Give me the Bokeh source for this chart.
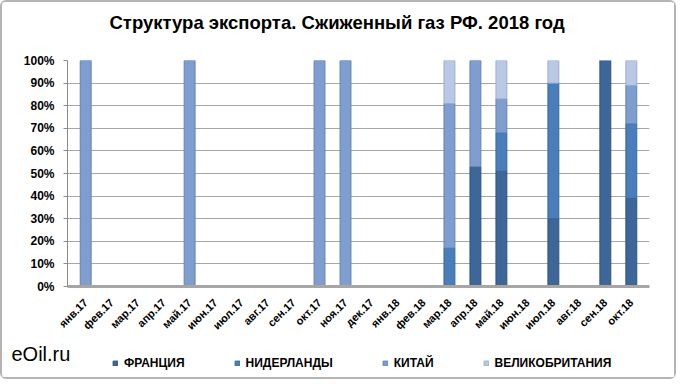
from bokeh.plotting import figure
from bokeh.layouts import column
from bokeh.models import (FactorRange, Range1d, NumeralTickFormatter, Legend, LegendItem,
                          Label, SingleIntervalTicker, ColumnDataSource)
from bokeh.embed import file_html
from bokeh.resources import INLINE
import math

months = ["янв.17", "фев.17", "мар.17", "апр.17", "май.17", "июн.17", "июл.17", "авг.17",
          "сен.17", "окт.17", "ноя.17", "дек.17", "янв.18", "фев.18", "мар.18", "апр.18",
          "май.18", "июн.18", "июл.18", "авг.18", "сен.18", "окт.18"]
france = [0, 0, 0, 0, 0, 0, 0, 0, 0, 0, 0, 0, 0, 0, 0, 0.53, 0.51, 0, 0.30, 0, 1.00, 0.39]
netherlands = [0, 0, 0, 0, 0, 0, 0, 0, 0, 0, 0, 0, 0, 0, 0.17, 0, 0.17, 0, 0.60, 0, 0, 0.33]
china = [1.00, 0, 0, 0, 1.00, 0, 0, 0, 0, 1.00, 1.00, 0, 0, 0, 0.64, 0.47, 0.15, 0, 0, 0, 0, 0.17]
uk = [0, 0, 0, 0, 0, 0, 0, 0, 0, 0, 0, 0, 0, 0, 0.19, 0, 0.17, 0, 0.10, 0, 0, 0.11]
series_names = ["ФРАНЦИЯ", "НИДЕРЛАНДЫ", "КИТАЙ", "ВЕЛИКОБРИТАНИЯ"]
series_keys = ["france", "netherlands", "china", "uk"]
colors = ["#3C6798", "#4A7EBB", "#7E9ED0", "#B9C9E5"]
edge_colors = ["#2F5380", "#3A679E", "#6683B3", "#9AAECF"]
brand_text = "eOil.ru"
title_text = "Структура экспорта. Сжиженный газ РФ. 2018 год"

source = ColumnDataSource(dict(months=months, france=france, netherlands=netherlands,
                               china=china, uk=uk))

font = "Liberation Sans"


def strip(height):
    f = figure(width=672, height=height, x_range=Range1d(0, 1), y_range=Range1d(0, 1),
               output_backend="svg", toolbar_location=None, x_axis_type=None, y_axis_type=None,
               min_border_left=0, min_border_right=0, min_border_top=0, min_border_bottom=0)
    f.frame_align = False
    f.xgrid.grid_line_color = None
    f.ygrid.grid_line_color = None
    f.outline_line_color = None
    return f


# title strip
t = strip(46)
t.add_layout(Label(x=107, y=26, x_units="screen", y_units="screen", text=title_text,
                   text_baseline="middle", text_align="left",
                   text_font=font, text_font_size="18.5px", text_font_style="bold",
                   text_color="#000000"))

# main chart
p = figure(width=672, height=290,
           x_range=FactorRange(*months, range_padding=0.2, range_padding_units="absolute"),
           y_range=Range1d(0, 1.0), output_backend="svg", toolbar_location=None,
           min_border_left=65, min_border_right=25, min_border_top=12, min_border_bottom=52)
p.frame_align = False

p.vbar_stack(series_keys, x="months", width=0.42, source=source,
             fill_color=colors, line_color=edge_colors, line_width=1)

p.yaxis.ticker = SingleIntervalTicker(interval=0.1)
p.yaxis.formatter = NumeralTickFormatter(format="0%")
p.yaxis.major_label_text_font = font
p.yaxis.major_label_text_font_size = "12px"
p.yaxis.major_label_text_font_style = "bold"
p.yaxis.major_label_text_color = "#000000"
p.yaxis.axis_line_color = "#8C8C8C"
p.yaxis.major_tick_line_color = "#8C8C8C"
p.yaxis.major_tick_out = 4
p.yaxis.major_tick_in = 0
p.yaxis.minor_tick_line_color = None
p.yaxis.major_label_standoff = 9

p.xaxis.major_label_orientation = math.pi / 4
p.xaxis.major_label_text_font = font
p.xaxis.major_label_text_font_size = "11px"
p.xaxis.major_label_text_font_style = "bold"
p.xaxis.major_label_text_color = "#000000"
p.xaxis.axis_line_color = "#A6A6A6"
p.xaxis.axis_line_width = 3
p.xaxis.major_tick_line_color = None
p.xaxis.major_label_standoff = 8

p.xgrid.grid_line_color = None
p.ygrid.grid_line_color = "#A6A6A6"
p.ygrid.grid_line_width = 1
p.outline_line_color = None

# legend strip
q = strip(39)
nan = float("nan")
dummy = []
for c, e in zip(colors, edge_colors):
    dummy.append(q.quad(left=[nan], right=[nan], top=[nan], bottom=[nan],
                        fill_color=c, line_color=e))
items = [LegendItem(label=n, renderers=[r]) for n, r in zip(series_names, dummy)]
legend = Legend(items=items, orientation="horizontal", location=(110, 7),
                glyph_width=6, glyph_height=6, label_standoff=6, spacing=49,
                padding=0, margin=0, border_line_color=None, background_fill_alpha=0,
                label_text_font=font, label_text_font_size="12px",
                label_text_font_style="bold", label_text_color="#000000",
                label_height=12)
q.add_layout(legend, "center")
q.add_layout(Label(x=9, y=24, x_units="screen", y_units="screen", text=brand_text,
                   text_baseline="middle",
                   text_font=font, text_font_size="20px", text_color="#000000"))

layout = column(t, p, q, spacing=0)
layout.styles = {"border": "2px solid #B4B4B4", "border-radius": "6px"}

open("out.html", "w").write(file_html(layout, INLINE))
